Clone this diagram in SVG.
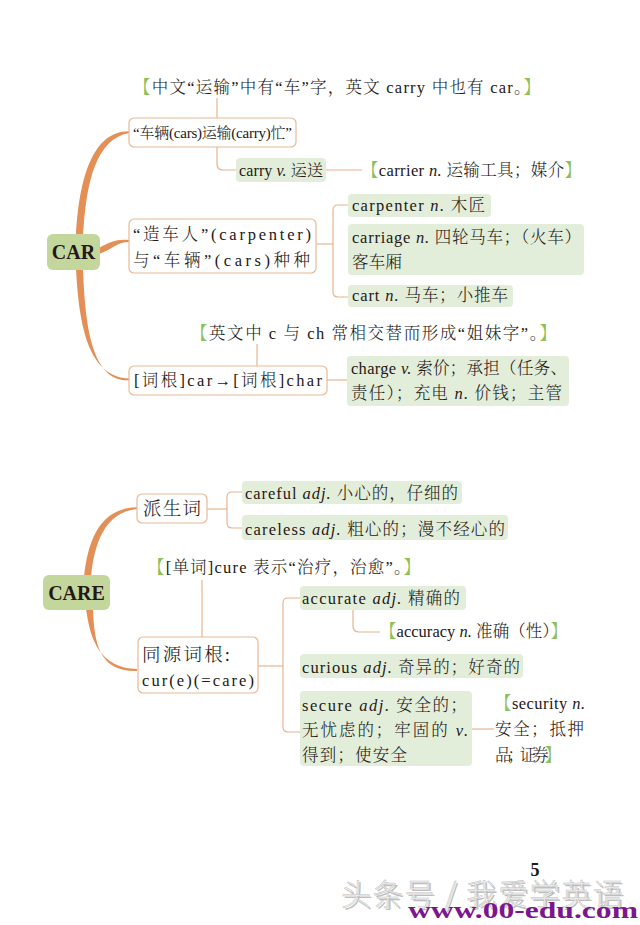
<svg xmlns="http://www.w3.org/2000/svg" width="640" height="925" viewBox="0 0 640 925">
<style>
text{font-family:"Liberation Serif","Noto Serif CJK SC","Noto Sans CJK SC",serif;font-size:16.5px;font-weight:300;fill:#231815}
.big{font-size:18.5px}
.root{font-weight:bold;font-size:20px;text-anchor:middle}
.box{fill:#fff;stroke:#e8b996;stroke-width:1.2}
.leaf{fill:#e3eeda}
.rootbox{fill:#c3d79d}
.ln{fill:none;stroke:#e8b48e;stroke-width:1.2}
.thick{fill:#e38f55}
.br{fill:#8dc05b}
.i{font-style:italic}
</style>
<rect width="640" height="925" fill="#fff"/>
<g id="connectors">
<path class="ln" d="M217,98 V118"/>
<path class="ln" d="M217,147 V164 Q217,170 223,170 H237"/>
<path class="ln" d="M326,170 H362"/>
<path class="ln" d="M316,244 H333"/>
<path class="ln" d="M348,205 H338 Q333,205 333,210 V292 Q333,297 338,297 H348"/>
<path class="ln" d="M257,344 V366"/>
<path class="ln" d="M327,380 H347"/>
<path class="ln" d="M207,509 H227"/>
<path class="ln" d="M242,492 H232 Q227,492 227,497 V523 Q227,528 232,528 H242"/>
<path class="ln" d="M202,580 V637"/>
<path class="ln" d="M258,666 H283"/>
<path class="ln" d="M300,598 H288 Q283,598 283,603 V727 Q283,732 288,732 H300"/>
<path class="ln" d="M353,610 V626 Q353,632 359,632 H380"/>
<path class="ln" d="M472,729 H494"/>
<path class="thick" d="M76,236 C79,180 92,131 129,131.3 L129,133 C96,139 86,182 83,236 Z"/>
<path class="thick" d="M99,248 C110,242 116,239 129,240 L129,242 C117,242 111,250 99,254 Z"/>
<path class="thick" d="M76,268 C79,330 90,377 129,378.5 L129,380.3 C93,382 85,330 83,268 Z"/>
<path class="thick" d="M84,577 C88,540 100,508 137,507.3 L137,509 C104,512 94,545 91,577 Z"/>
<path class="thick" d="M86,608 C90,640 100,668 137,669 L137,671 C100,672 94,645 93,608 Z"/>
</g>
<g id="note1"><text x="134" y="93" textLength="406" lengthAdjust="spacing"><tspan class="br">【</tspan>中文“运输”中有“车”字，英文 carry 中也有 car。<tspan class="br">】</tspan></text></g>
<g id="box1"><rect class="box" x="129" y="118" width="167" height="29" rx="5"/><text x="133" y="138" textLength="159" lengthAdjust="spacing" style="font-size:15px">“车辆(cars)运输(carry)忙”</text></g>
<g id="carry"><rect class="leaf" x="236" y="158" width="90" height="24" rx="4"/><text x="239" y="176" textLength="84" lengthAdjust="spacing" style="font-size:16px">carry <tspan class="i">v.</tspan> 运送</text></g>
<g id="carrier"><text x="362" y="176" textLength="219" lengthAdjust="spacing"><tspan class="br">【</tspan>carrier <tspan class="i">n.</tspan> 运输工具；媒介<tspan class="br">】</tspan></text></g>
<g id="CAR"><rect class="rootbox" x="47" y="234" width="53" height="36" rx="6"/><text class="root" x="73.5" y="259">CAR</text></g>
<g id="box2"><rect class="box" x="129" y="219" width="187" height="54" rx="5"/><text x="133" y="240" textLength="178" lengthAdjust="spacing">“造车人”(carpenter)</text><text x="133" y="266" textLength="177" lengthAdjust="spacing">与“车辆”(cars)种种</text></g>
<g id="carpenter"><rect class="leaf" x="348" y="194" width="143" height="23" rx="4"/><text x="352" y="211" textLength="133" lengthAdjust="spacing">carpenter <tspan class="i">n.</tspan> 木匠</text></g>
<g id="carriage"><rect class="leaf" x="348" y="224" width="236" height="51" rx="4"/><text x="352" y="243" textLength="229" lengthAdjust="spacing">carriage <tspan class="i">n.</tspan> 四轮马车；（火车）</text><text x="352" y="268" textLength="50" lengthAdjust="spacing">客车厢</text></g>
<g id="cart"><rect class="leaf" x="348" y="285" width="165" height="22" rx="4"/><text x="352" y="301" textLength="156" lengthAdjust="spacing">cart <tspan class="i">n.</tspan> 马车；小推车</text></g>
<g id="note2"><text x="191" y="339" textLength="365" lengthAdjust="spacing"><tspan class="br">【</tspan>英文中 c 与 ch 常相交替而形成“姐妹字”。<tspan class="br">】</tspan></text></g>
<g id="box3"><rect class="box" x="129" y="366" width="198" height="29" rx="5"/><text x="134" y="386" textLength="188" lengthAdjust="spacing">[词根]car→[词根]char</text></g>
<g id="charge"><rect class="leaf" x="347" y="356" width="222" height="50" rx="4"/><text x="351" y="374" textLength="216" lengthAdjust="spacing">charge <tspan class="i">v.</tspan> 索价；承担（任务、</text><text x="351" y="399" textLength="211" lengthAdjust="spacing">责任）；充电 <tspan class="i">n.</tspan> 价钱；主管</text></g>
<g id="CARE"><rect class="rootbox" x="43" y="575" width="67" height="35" rx="6"/><text class="root" x="76.5" y="600">CARE</text></g>
<g id="paisheng"><rect class="box" x="137" y="494" width="70" height="29" rx="5"/><text class="big" x="143" y="515" textLength="58" lengthAdjust="spacing">派生词</text></g>
<g id="careful"><rect class="leaf" x="242" y="481" width="220" height="23" rx="4"/><text x="245" y="499" textLength="213" lengthAdjust="spacing">careful <tspan class="i">adj.</tspan> 小心的，仔细的</text></g>
<g id="careless"><rect class="leaf" x="242" y="515" width="266" height="25" rx="4"/><text x="245" y="535" textLength="260" lengthAdjust="spacing">careless <tspan class="i">adj.</tspan> 粗心的；漫不经心的</text></g>
<g id="note3"><text x="148" y="573" textLength="272" lengthAdjust="spacing"><tspan class="br">【</tspan>[单词]cure 表示“治疗，治愈”。<tspan class="br">】</tspan></text></g>
<g id="tongyuan"><rect class="box" x="138" y="637" width="120" height="56" rx="5"/><text class="big" x="142" y="661" textLength="88" lengthAdjust="spacing">同源词根:</text><text x="142" y="686" textLength="112" lengthAdjust="spacing">cur(e)(=care)</text></g>
<g id="accurate"><rect class="leaf" x="300" y="586" width="166" height="24" rx="4"/><text x="302" y="604" textLength="158" lengthAdjust="spacing">accurate <tspan class="i">adj.</tspan> 精确的</text></g>
<g id="accuracy"><text x="380" y="637" textLength="187" lengthAdjust="spacing"><tspan class="br">【</tspan>accuracy <tspan class="i">n.</tspan> 准确（性）<tspan class="br">】</tspan></text></g>
<g id="curious"><rect class="leaf" x="300" y="654" width="223" height="24" rx="4"/><text x="302" y="673" textLength="218" lengthAdjust="spacing">curious <tspan class="i">adj.</tspan> 奇异的；好奇的</text></g>
<g id="secure"><rect class="leaf" x="300" y="691" width="172" height="75" rx="4"/><text x="302" y="711" textLength="165" lengthAdjust="spacing">secure <tspan class="i">adj.</tspan> 安全的；</text><text x="302" y="736" textLength="166" lengthAdjust="spacing">无忧虑的；牢固的 <tspan class="i">v.</tspan></text><text x="302" y="761" textLength="105" lengthAdjust="spacing">得到；使安全</text></g>
<g id="security"><text x="495" y="709" textLength="90" lengthAdjust="spacing"><tspan class="br">【</tspan>security <tspan class="i">n.</tspan></text><text x="495" y="735" textLength="89" lengthAdjust="spacing">安全；抵押</text><text x="495" y="761" textLength="66" lengthAdjust="spacing">品；证券<tspan class="br">】</tspan></text></g>
<g id="page"><text x="535" y="876" style="font-weight:bold;font-size:18px;text-anchor:middle">5</text></g>
<g id="watermark">
<text x="343" y="907" textLength="282" lengthAdjust="spacing" style="font-family:'Noto Sans CJK SC',sans-serif;font-size:30px;font-weight:300;fill:#8a8a8a;opacity:0.55">头条号 / 我爱学英语</text>
<text x="341" y="905" textLength="282" lengthAdjust="spacing" style="font-family:'Noto Sans CJK SC',sans-serif;font-size:30px;font-weight:300;fill:#f4f4f4;stroke:#c0c0c0;stroke-width:0.5">头条号 / 我爱学英语</text>
<text x="408" y="918" textLength="230" lengthAdjust="spacingAndGlyphs" style="font-family:'Liberation Serif',serif;font-weight:bold;font-size:24px;fill:#7b168f">www.00-edu.com</text>
</g>
</svg>
